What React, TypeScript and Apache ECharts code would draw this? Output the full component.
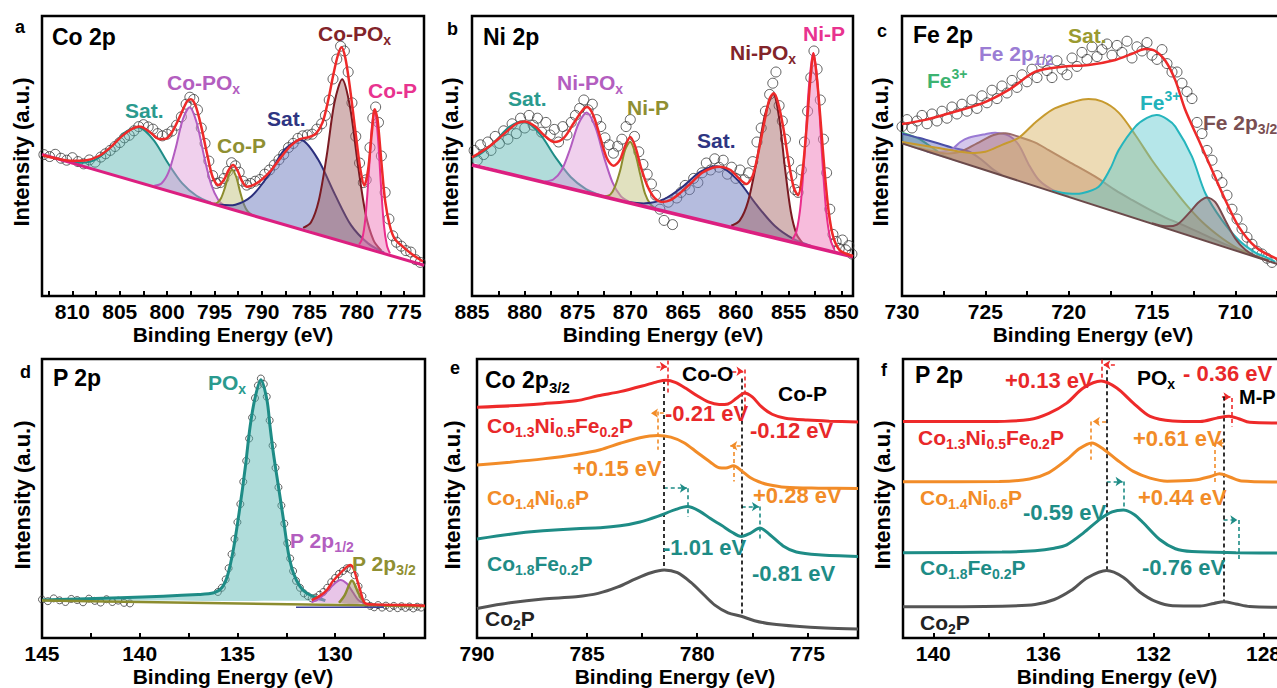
import React, { useEffect, useRef } from "react";
import * as echarts from "echarts";

const FONT = '"Liberation Sans", Arial, Helvetica, sans-serif';

// ================= panel a : Co 2p =================
const aLabels = [810, 805, 800, 795, 790, 785, 780, 775];
const aTicks = [812.5, 810, 807.5, 805, 802.5, 800, 797.5, 795, 792.5, 790, 787.5, 785, 782.5, 780, 777.5, 775];
const aBaseline = [[813.2, 50.6], [772.9, 11.0]];
const aSatHigh = [[810.4, 48.1], [808.9, 47.6], [807.4, 49.0], [805.9, 53.3], [804.4, 58.55], [802.9, 60.2], [801.4, 55.6], [799.9, 47.4], [798.4, 40.2], [796.9, 35.8], [795.4, 33.4]];
const aCoPOxHigh = [[801.35, 39.4], [800.6, 40.2], [799.85, 44.2], [799.1, 52.8], [798.35, 63.0], [797.6, 67.4], [796.85, 61.5], [796.1, 49.9], [795.35, 39.8], [794.6, 34.3], [793.85, 32.0]];
const aCoPHigh = [[795.1, 33.0], [794.7, 33.3], [794.3, 35.0], [793.9, 38.7], [793.5, 43.2], [793.1, 45.05], [792.7, 42.4], [792.3, 37.2], [791.9, 32.7], [791.5, 30.2], [791.1, 29.1]];
const aSatLow = [[794.6, 32.7], [792.8, 32.6], [791.1, 35.6], [789.3, 43.2], [787.6, 52.3], [785.8, 55.7], [784.1, 48.9], [782.3, 36.3], [780.6, 25.3], [778.8, 18.8], [777.1, 15.5]];
const aCoPOxLow = [[785.65, 24.3], [784.82, 26.3], [784.0, 34.1], [783.17, 50.0], [782.35, 69.0], [781.52, 77.4], [780.7, 67.4], [779.87, 46.8], [779.05, 29.2], [778.22, 19.9], [777.4, 16.2]];
const aCoPLow = [[779.74, 18.4], [779.41, 20.5], [779.09, 27.6], [778.76, 41.9], [778.44, 58.8], [778.11, 66.4], [777.79, 58.1], [777.46, 40.6], [777.14, 25.7], [776.81, 18.0], [776.49, 15.2]];
const aEnvelope = [[813.1, 50.2], [811.5, 49.0], [810.0, 48.3], [808.5, 48.5], [807.2, 50.0], [806.0, 53.0], [804.8, 57.0], [803.8, 59.5], [802.9, 60.5], [801.8, 58.5], [800.8, 56.0], [800.1, 56.2], [799.4, 59.0], [798.6, 64.5], [797.9, 69.5], [797.5, 70.3], [797.0, 68.0], [796.4, 60.5], [795.8, 51.0], [795.2, 42.5], [794.6, 39.6], [794.0, 41.5], [793.5, 45.0], [793.05, 46.8], [792.6, 45.0], [792.1, 41.0], [791.6, 39.0], [790.8, 39.8], [790.0, 41.6], [789.0, 45.0], [788.0, 49.5], [787.0, 53.5], [786.0, 56.0], [785.0, 56.8], [784.3, 58.0], [783.6, 62.0], [783.0, 70.0], [782.5, 78.5], [782.0, 85.8], [781.6, 88.8], [781.2, 85.0], [780.8, 76.5], [780.4, 66.0], [780.0, 55.0], [779.6, 45.0], [779.2, 39.5], [778.8, 45.0], [778.4, 58.5], [778.1, 66.7], [777.8, 63.0], [777.4, 48.0], [777.0, 34.0], [776.5, 25.0], [776.0, 20.5], [775.2, 17.8], [774.2, 15.0], [773.0, 12.3]];
const aCircles = [[813.0, 50.5], [812.4, 49.8], [811.8, 50.6], [811.2, 49.2], [810.6, 48.5], [810.0, 49.4], [809.4, 48.0], [808.8, 47.2], [808.2, 48.6], [807.6, 47.8], [807.0, 49.6], [806.5, 50.8], [806.0, 52.0], [805.5, 53.4], [805.0, 54.8], [804.5, 56.5], [804.0, 57.4], [803.5, 59.0], [803.0, 60.5], [802.5, 61.2], [802.0, 60.4], [801.5, 59.6], [801.0, 58.0], [800.5, 57.2], [800.0, 57.8], [799.5, 58.9], [799.0, 61.0], [798.5, 64.0], [798.0, 68.5], [797.6, 71.0], [797.2, 70.2], [796.8, 66.5], [796.4, 60.0], [796.0, 54.5], [795.6, 48.2], [795.2, 43.0], [794.8, 40.2], [794.4, 40.5], [794.0, 42.0], [793.6, 44.5], [793.2, 47.6], [792.8, 46.5], [792.4, 44.2], [792.0, 41.0], [791.6, 39.6], [791.2, 40.2], [790.7, 41.0], [790.2, 41.6], [789.7, 43.5], [789.2, 45.0], [788.7, 46.8], [788.2, 48.7], [787.7, 50.6], [787.2, 53.0], [786.7, 54.5], [786.2, 56.3], [785.7, 57.2], [785.2, 57.5], [784.7, 57.8], [784.2, 59.6], [783.7, 61.5], [783.3, 64.5], [782.9, 70.0], [782.5, 77.5], [782.1, 84.6], [781.7, 89.2], [781.3, 87.5], [780.9, 80.0], [780.5, 69.0], [780.1, 57.0], [779.7, 47.5], [779.3, 40.5], [779.0, 41.5], [778.6, 53.0], [778.3, 63.5], [778.0, 67.5], [777.7, 62.0], [777.4, 50.0], [777.0, 37.0], [776.6, 27.5], [776.2, 21.5], [775.8, 19.2], [775.3, 17.8], [774.8, 16.2], [774.3, 15.7], [773.8, 13.0], [773.3, 12.0]];

// ================= panel b : Ni 2p =================
const bLabels = [885, 880, 875, 870, 865, 860, 855, 850];
const bTicks = [885, 882.5, 880, 877.5, 875, 872.5, 870, 867.5, 865, 862.5, 860, 857.5, 855, 852.5, 850];
const bBaseline = [[885, 46.8], [848.9, 14.0]];
const bSatHigh = [[885.8, 48.7], [884.35, 50.4], [882.9, 54.9], [881.45, 60.4], [880.0, 62.3], [878.55, 57.8], [877.1, 49.6], [875.65, 42.5], [874.2, 38.2], [872.75, 35.9]];
const bNiPOxHigh = [[878.1, 40.9], [877.3, 41.6], [876.5, 45.0], [875.7, 52.6], [874.9, 61.6], [874.1, 65.5], [873.3, 60.2], [872.5, 49.7], [871.7, 40.7], [870.9, 35.7], [870.1, 33.6]];
const bNiPHigh = [[872.4, 35.6], [871.9, 36.2], [871.45, 39.1], [870.95, 45.0], [870.5, 52.1], [870.0, 55.1], [869.55, 51.2], [869.05, 43.3], [868.6, 36.5], [868.1, 32.8], [867.6, 31.2]];
const bSatLow = [[870.3, 33.7], [868.55, 33.1], [866.8, 34.6], [865.05, 39.0], [863.3, 44.5], [861.55, 46.2], [859.8, 41.3], [858.05, 32.6], [856.3, 25.0], [854.55, 20.4], [852.8, 17.8]];
const bNiPOxLow = [[860.44, 25.1], [859.64, 26.9], [858.84, 33.8], [858.04, 47.9], [857.24, 64.7], [856.44, 72.1], [855.89, 63.4], [855.34, 45.5], [854.79, 30.1], [854.24, 22.0], [853.69, 19.0]];
const bNiPLow = [[854.65, 20.1], [854.25, 23.2], [853.85, 33.0], [853.45, 52.8], [853.05, 76.0], [852.65, 86.7], [852.25, 75.3], [851.85, 51.3], [851.45, 30.8], [851.05, 20.3], [850.65, 16.5]];
const bEnvelope = [[885.0, 49.5], [883.5, 53.0], [882.0, 57.8], [880.8, 61.5], [880.0, 62.3], [879.0, 60.5], [878.2, 57.5], [877.2, 55.0], [876.3, 56.5], [875.4, 61.5], [874.6, 66.0], [874.1, 67.5], [873.5, 64.5], [872.8, 56.0], [872.2, 49.0], [871.6, 46.5], [871.0, 48.5], [870.5, 53.5], [870.0, 56.8], [869.5, 53.0], [869.0, 46.0], [868.4, 39.5], [867.7, 35.0], [867.0, 33.6], [866.2, 34.2], [865.2, 37.0], [864.2, 40.5], [863.2, 44.0], [862.2, 45.8], [861.5, 46.2], [860.5, 45.0], [859.7, 42.0], [859.0, 40.0], [858.4, 43.0], [857.8, 52.5], [857.2, 64.0], [856.8, 70.5], [856.4, 72.4], [856.0, 69.0], [855.5, 60.0], [855.0, 48.0], [854.5, 38.5], [854.1, 36.0], [853.7, 44.0], [853.3, 60.0], [852.95, 77.0], [852.65, 86.7], [852.35, 79.0], [852.0, 64.0], [851.6, 45.0], [851.2, 30.0], [850.8, 21.5], [850.2, 16.5], [849.5, 15.0], [848.9, 14.3]];
const bCircles = [[884.8, 52.0], [884.5, 48.5], [884.2, 54.0], [883.9, 50.5], [883.5, 55.0], [883.2, 52.0], [882.8, 57.0], [882.4, 54.5], [882.0, 59.0], [881.6, 56.0], [881.2, 61.5], [880.8, 58.0], [880.4, 63.5], [880.0, 60.0], [879.6, 64.5], [879.2, 61.0], [878.8, 63.5], [878.4, 58.5], [878.0, 62.0], [877.6, 57.5], [877.2, 59.5], [876.8, 55.0], [876.4, 60.5], [876.0, 57.5], [875.6, 62.0], [875.2, 64.5], [874.8, 67.0], [874.4, 70.0], [874.0, 66.5], [873.6, 68.5], [873.2, 63.0], [872.8, 60.5], [872.4, 56.5], [872.0, 54.0], [871.6, 51.0], [871.2, 53.5], [870.8, 56.0], [870.4, 60.5], [870.0, 63.0], [869.6, 57.0], [869.2, 51.5], [868.8, 47.0], [868.4, 43.5], [868.0, 40.0], [867.6, 36.0], [867.2, 31.0], [866.8, 27.0], [866.4, 33.5], [866.0, 25.5], [865.6, 35.0], [865.2, 37.0], [864.8, 39.5], [864.4, 38.0], [864.0, 42.0], [863.6, 40.5], [863.2, 44.0], [862.8, 47.5], [862.4, 45.0], [862.0, 49.0], [861.6, 46.0], [861.2, 48.5], [860.8, 43.5], [860.4, 46.0], [860.0, 42.0], [859.6, 45.0], [859.2, 41.5], [858.8, 44.0], [858.4, 48.0], [858.0, 55.0], [857.6, 60.0], [857.2, 66.0], [856.8, 72.0], [856.5, 76.0], [856.2, 80.0], [855.9, 68.0], [855.6, 62.5], [855.3, 56.0], [855.0, 48.0], [854.7, 43.0], [854.4, 38.0], [854.1, 37.0], [853.8, 45.0], [853.5, 55.0], [853.2, 66.0], [852.9, 78.0], [852.6, 87.5], [852.3, 81.0], [852.0, 70.0], [851.7, 56.0], [851.4, 44.0], [851.1, 31.0], [850.8, 22.0], [850.5, 19.5], [850.2, 17.0], [849.9, 20.0], [849.6, 16.5], [849.3, 18.0], [849.0, 15.0]];

// ================= panel c : Fe 2p =================
const cLabels = [730, 725, 720, 715, 710];
const cTicks = [730, 727.5, 725, 722.5, 720, 717.5, 715, 712.5, 710, 707.5];
const cBaseline = [[730, 54.5], [706, 8.6]];
const cFe3Green = [[731.5, 57.4], [731, 59.2], [730, 58.3], [729, 56.2], [728.5, 54.3], [728, 52.2], [727.5, 50.2], [727, 49.0]];
const cBlue = [[731.5, 57.4], [731, 59.5], [730, 58.0], [729, 56.5], [728, 54.8], [727, 53.0], [726, 51.6], [725.3, 49.0], [724.6, 45.5], [724, 43.2]];
const cFe2p12 = [[728.5, 51.6], [728, 51.2], [727, 52.5], [726.5, 55.0], [726, 56.5], [725, 57.8], [724.4, 58.3], [723.6, 57.3], [723, 54.0], [722.4, 47.0], [721.8, 41.5], [721, 38.0], [720, 35.8]];
const cRose = [[729, 52.9], [727.5, 51.0], [726.5, 51.5], [725.5, 54.5], [724.5, 57.5], [723.8, 58.1], [723, 56.9], [722, 54.8], [721.2, 52.1], [720, 48.0], [718.4, 42.6], [717.2, 37.8], [716.2, 34.3], [715.2, 31.0], [714.2, 28.0], [713.2, 25.5], [712.2, 22.8], [711, 19.5], [710, 17.0], [709, 14.6]];
const cSat = [[730.5, 55.5], [730, 55.0], [728, 53.0], [726, 51.2], [725, 51.5], [724, 54.0], [723, 56.5], [722, 62.0], [721, 66.5], [720, 68.8], [719, 70.3], [718, 69.5], [717, 65.5], [716, 57.5], [715, 48.5], [714, 40.5], [713, 33.0], [712, 26.5], [711, 21.5], [710, 17.5], [709, 14.8], [708, 12.8]];
const cFe3Cyan = [[721, 37.6], [720, 36.6], [719.2, 36.7], [718.2, 39.0], [717.5, 45.5], [717, 52.1], [716, 60.5], [715.3, 63.6], [714.7, 64.6], [714.1, 63.2], [713.6, 60.5], [712.6, 49.8], [711.8, 36.7], [710.8, 27.1], [709.8, 20.0], [708.8, 15.5], [708.2, 14.0], [707.6, 12.2]];
const cFe2p32 = [[715, 26.0], [714.2, 24.9], [713.5, 25.5], [712.8, 29.5], [712.2, 33.5], [711.7, 35.2], [711.2, 33.5], [710.6, 27.0], [710, 20.5], [709.4, 16.5], [708.8, 14.3], [708, 12.6]];
const cEnvelope = [[730.0, 61.4], [728.6, 62.9], [727.2, 65.2], [725.2, 68.8], [723.6, 73.6], [722.0, 80.1], [720.4, 81.9], [718.8, 82.5], [717.2, 84.3], [716.2, 86.5], [715.4, 88.2], [714.8, 87.5], [714.2, 84.0], [713.6, 77.0], [713.0, 66.4], [712.2, 55.7], [711.4, 45.0], [710.6, 34.3], [709.8, 24.8], [708.8, 17.6], [707.6, 13.5], [706.5, 11.5]];
const cCircles = [[730.0, 60.5], [729.7, 63.0], [729.4, 60.0], [729.1, 62.5], [728.8, 64.5], [728.5, 61.5], [728.2, 65.0], [727.9, 62.5], [727.6, 66.0], [727.3, 63.5], [727.0, 67.5], [726.7, 65.0], [726.4, 68.5], [726.1, 66.0], [725.8, 70.0], [725.5, 67.0], [725.2, 71.5], [724.9, 69.0], [724.6, 73.5], [724.3, 70.5], [724.0, 75.0], [723.7, 72.5], [723.4, 77.0], [723.1, 74.5], [722.8, 79.0], [722.5, 76.5], [722.2, 81.0], [721.9, 78.0], [721.6, 83.5], [721.3, 80.5], [721.0, 78.0], [720.7, 84.0], [720.4, 81.0], [720.1, 79.0], [719.8, 85.0], [719.5, 82.0], [719.2, 87.0], [718.9, 84.5], [718.6, 89.0], [718.3, 85.5], [718.0, 88.0], [717.7, 90.0], [717.4, 86.0], [717.1, 89.5], [716.8, 87.0], [716.5, 91.0], [716.2, 85.0], [715.9, 89.0], [715.6, 87.5], [715.3, 90.5], [715.0, 86.0], [714.7, 84.5], [714.4, 88.0], [714.1, 83.0], [713.8, 80.0], [713.5, 80.0], [713.2, 76.0], [712.9, 73.0], [712.6, 70.5], [712.3, 62.0], [712.0, 58.0], [711.7, 52.0], [711.4, 48.5], [711.1, 43.0], [710.8, 40.5], [710.5, 36.0], [710.2, 31.0], [709.9, 27.5], [709.6, 24.0], [709.3, 21.0], [709.0, 18.5], [708.7, 16.0], [708.4, 15.0], [708.1, 13.5], [707.8, 12.0]];

// ================= panel d : P 2p =================
const dLabels = [145, 140, 135, 130];
const dTicks = [145, 142.5, 140, 137.5, 135, 132.5, 130, 127.5];
const dBaseline = [[145, 13.4], [125.4, 11.4]];
const dBaseline2 = [[132, 11.0], [127.5, 11.0]];
const dPOx = [[145.0, 13.6], [141.0, 14.4], [137.0, 15.6], [136.2, 16.2], [135.8, 18.0], [135.5, 22.5], [135.2, 32.0], [134.9, 45.5], [134.6, 61.0], [134.35, 75.8], [134.1, 86.0], [133.8, 92.6], [133.49, 85.4], [133.33, 75.8], [133.16, 66.3], [132.9, 54.3], [132.64, 42.3], [132.39, 30.4], [132.13, 23.2], [131.79, 18.4], [131.45, 16.0], [131.0, 14.6], [130.5, 13.4]];
const dP2p12 = [[131.2, 12.8], [130.8, 14.2], [130.4, 16.8], [130.1, 19.0], [129.74, 20.8], [129.4, 19.5], [129.1, 16.5], [128.8, 13.5], [128.5, 12.4]];
const dP2p32 = [[129.8, 12.6], [129.5, 15.5], [129.14, 20.6], [128.8, 16.0], [128.5, 12.6]];
const dEnvelope = [[131.2, 13.6], [130.8, 15.0], [130.42, 17.2], [130.1, 20.5], [129.74, 23.2], [129.4, 25.5], [129.23, 26.2], [129.06, 25.0], [128.9, 21.5], [128.72, 17.2], [128.46, 12.4], [128.0, 12.0], [126.5, 11.8], [125.4, 11.6]];
const dCircles = [[145.0, 13.8], [144.7, 13.2], [144.4, 14.2], [144.1, 13.5], [143.8, 12.9], [143.5, 14.0], [143.2, 13.6], [142.9, 12.8], [142.6, 14.1], [142.3, 13.3], [142.0, 12.7], [141.7, 13.9], [141.4, 12.9], [141.1, 13.4], [140.8, 12.6], [140.5, 12.4], [136.0, 16.5], [135.8, 18.0], [135.6, 21.0], [135.45, 25.0], [135.3, 30.0], [135.15, 35.5], [135.0, 41.5], [134.85, 48.0], [134.7, 56.0], [134.55, 63.5], [134.4, 71.5], [134.25, 79.0], [134.1, 86.0], [133.95, 90.5], [133.8, 93.0], [133.65, 91.0], [133.5, 86.5], [133.35, 78.0], [133.2, 69.0], [133.05, 61.0], [132.9, 54.0], [132.75, 47.5], [132.6, 41.0], [132.45, 34.0], [132.3, 28.5], [132.15, 24.0], [132.0, 20.5], [131.8, 18.0], [131.6, 16.0], [131.4, 15.0], [131.2, 14.2], [131.0, 14.5], [130.8, 15.5], [130.6, 16.5], [130.4, 18.0], [130.2, 20.0], [130.0, 21.5], [129.8, 23.0], [129.6, 24.0], [129.4, 25.0], [129.2, 24.5], [129.0, 22.5], [128.8, 18.5], [128.6, 15.0], [128.4, 12.5], [128.2, 11.5], [128.0, 11.0], [127.8, 11.8], [127.6, 10.9], [127.4, 11.6], [127.2, 10.8], [127.0, 11.5], [126.8, 10.7], [126.6, 11.4], [126.4, 10.8], [126.2, 11.3], [126.0, 10.6], [125.8, 11.2], [125.6, 10.9]];

// ================= panel e : Co 2p3/2 =================
const eLabels = [790, 785, 780, 775];
const eTicks = [790, 787.5, 785, 782.5, 780, 777.5, 775];
const eCoNiFe = [[790.0, 82.7], [788.5, 83.2], [787.0, 84.0], [785.5, 85.0], [784.5, 86.8], [783.5, 88.3], [782.5, 90.3], [781.8, 91.9], [781.4, 92.4], [781.0, 91.6], [780.5, 89.4], [780.0, 86.8], [779.5, 84.6], [779.0, 83.7], [778.6, 83.9], [778.2, 86.0], [777.85, 87.8], [777.5, 86.4], [777.1, 83.0], [776.6, 80.2], [776.0, 78.8], [775.0, 78.1], [774.0, 77.7], [772.7, 77.4]];
const eCoNi = [[790.0, 62.0], [788.5, 63.0], [787.0, 64.2], [785.5, 65.8], [784.4, 67.5], [783.5, 69.8], [782.6, 71.8], [781.8, 72.6], [781.2, 72.0], [780.6, 70.0], [780.0, 66.5], [779.4, 63.0], [779.0, 61.0], [778.7, 60.9], [778.35, 61.7], [778.0, 60.0], [777.6, 57.5], [777.2, 56.0], [776.8, 55.0], [776.0, 54.0], [774.5, 53.7], [772.7, 53.6]];
const eCoFe = [[790.0, 35.5], [788.5, 37.2], [787.0, 38.4], [785.5, 39.2], [784.4, 39.5], [783.5, 40.2], [782.6, 41.6], [781.8, 43.6], [781.0, 46.0], [780.45, 47.1], [779.9, 45.5], [779.4, 42.8], [778.9, 40.4], [778.4, 37.8], [778.0, 36.4], [777.6, 37.5], [777.15, 39.4], [776.7, 37.0], [776.1, 33.0], [775.5, 30.8], [774.5, 29.8], [772.7, 29.2]];
const eCo2P = [[790.0, 10.6], [788.5, 12.6], [787.0, 14.0], [785.5, 14.8], [784.5, 16.0], [783.6, 18.3], [782.8, 21.2], [782.1, 23.4], [781.5, 24.4], [780.9, 23.4], [780.3, 20.0], [779.7, 15.5], [779.2, 11.8], [778.6, 9.0], [778.0, 7.8], [777.4, 6.2], [776.6, 5.0], [775.5, 4.2], [774.2, 3.6], [772.7, 3.2]];
// segments: [x1, y1, x2, y2, arrowAtEnd]
const eRefLines = [[781.52, 92.5, 781.52, 24.4, 0], [778.0, 93.0, 778.0, 7.7, 0]];
const eShiftRed = [[781.32, 99.5, 781.32, 87.8, 0], [781.85, 97.3, 781.38, 97.3, 1], [777.85, 96.2, 777.85, 81.8, 0], [778.41, 95.6, 777.9, 95.6, 1]];
const eShiftOrange = [[781.79, 81.2, 781.79, 67.5, 0], [781.52, 80.6, 782.1, 80.6, 1], [778.34, 69.2, 778.34, 56.1, 0], [778.03, 68.9, 778.5, 68.9, 1]];
const eShiftTeal = [[781.52, 53.7, 780.47, 53.7, 1], [780.43, 53.7, 780.43, 43.5, 0], [777.98, 47.1, 777.2, 47.1, 1], [777.15, 47.1, 777.15, 34.6, 0]];

// ================= panel f : P 2p =================
const fLabels = [140, 136, 132, 128];
const fTicks = [140, 138, 136, 134, 132, 130, 128];
const fCoNiFe = [[141.1, 77.6], [138.0, 77.6], [136.5, 78.3], [135.8, 80.5], [135.15, 84.2], [134.55, 89.6], [133.9, 92.1], [133.33, 89.6], [132.73, 84.2], [132.12, 79.4], [131.3, 77.8], [130.3, 77.6], [129.7, 78.8], [129.25, 79.5], [128.9, 78.6], [128.5, 77.3], [127.0, 77.0]];
const fCoNi = [[141.1, 56.0], [137.6, 56.1], [136.5, 57.0], [135.8, 59.3], [135.15, 63.9], [134.7, 67.8], [134.24, 69.9], [133.8, 67.6], [133.33, 63.9], [132.73, 59.7], [132.12, 57.3], [131.5, 56.2], [130.5, 56.6], [129.9, 58.0], [129.6, 58.9], [129.2, 57.6], [128.8, 56.3], [127.0, 55.9]];
const fCoFe = [[141.1, 30.6], [137.5, 30.8], [136.3, 31.3], [135.6, 32.2], [135.15, 33.4], [134.55, 37.6], [133.94, 42.6], [133.5, 45.2], [133.09, 45.9], [132.7, 44.3], [132.36, 41.2], [131.76, 35.2], [131.2, 32.0], [130.6, 31.0], [129.0, 30.6], [127.0, 30.4]];
const fCo2P = [[141.1, 11.2], [137.5, 11.4], [136.3, 12.0], [135.6, 13.8], [135.0, 17.0], [134.4, 21.6], [133.7, 24.2], [133.1, 21.8], [132.5, 16.5], [131.9, 13.0], [131.3, 11.6], [130.3, 11.5], [129.8, 12.4], [129.45, 13.0], [129.0, 12.2], [128.5, 11.3], [127.0, 11.0]];
const fRefLines = [[133.7, 96.0, 133.7, 24.2, 0], [129.45, 86.6, 129.45, 13.0, 0]];
const fShiftRed = [[133.88, 99.7, 133.88, 92.0, 0], [133.4, 97.9, 133.82, 97.9, 1], [129.15, 86.0, 129.15, 75.8, 0], [129.51, 86.4, 129.2, 86.4, 1]];
const fShiftOrange = [[134.28, 77.6, 134.28, 63.9, 0], [133.72, 77.6, 134.2, 77.6, 1], [129.76, 69.9, 129.76, 54.9, 0], [129.45, 69.9, 129.72, 69.9, 1]];
const fShiftTeal = [[133.7, 56.1, 133.12, 56.1, 1], [133.09, 56.1, 133.09, 45.9, 0], [129.45, 42.3, 128.95, 42.3, 1], [128.91, 42.3, 128.91, 28.0, 0]];

// ================= styling =================
const C = {
  teal: "#1e8c86", tealFill: "rgba(70,172,166,0.42)",
  violet: "#b25cc0", violetFill: "rgba(222,150,214,0.45)",
  olive: "#8c8c2e", oliveFill: "rgba(196,196,128,0.5)",
  navy: "#2b2f7c", navyFill: "rgba(108,122,190,0.5)",
  dred: "#7a1a22", dredFill: "rgba(160,92,92,0.45)",
  pink: "#ea2d8c", pinkFill: "rgba(240,122,186,0.5)",
  base: "#dc1f80", red: "#ee2a2a", orange: "#f28c28", gray: "#555555",
};

const grids = [
  { left: 42, top: 16, width: 382, height: 280 },
  { left: 472, top: 16, width: 381, height: 280 },
  { left: 902, top: 16, width: 400, height: 280 },
  { left: 42, top: 359, width: 383, height: 279 },
  { left: 477, top: 359, width: 381, height: 279 },
  { left: 903, top: 359, width: 388, height: 279 },
];
const ranges = [[772.9, 813.2], [848.9, 885], [706, 730], [125.4, 145], [772.7, 790], [127.0, 141.1]];
const labelSets = [aLabels, bLabels, cLabels, dLabels, eLabels, fLabels];
const tickSets = [aTicks, bTicks, cTicks, dTicks, eTicks, fTicks];

function comp(gi: number, data: number[][], stroke: string, fill: string, width = 2) {
  return {
    type: "custom", xAxisIndex: gi, yAxisIndex: gi, data, clip: true, silent: true, z: 3,
    renderItem: (params: any, api: any) => {
      if (params.dataIndexInside !== 0) return null;
      const pts: number[][] = [];
      for (let i = 0; i < params.dataInsideLength; i++) pts.push(api.coord([api.value(0, i), api.value(1, i)]));
      return {
        type: "group",
        children: [
          { type: "polygon", shape: { points: pts, smooth: 0.3 }, style: { fill, stroke: "none" } },
          { type: "polyline", shape: { points: pts, smooth: 0.3 }, style: { stroke, lineWidth: width, fill: "none" } },
        ],
      };
    },
  };
}
function curve(gi: number, data: number[][], color: string, width = 2.5, z = 5, extra: any = {}) {
  return { type: "line", xAxisIndex: gi, yAxisIndex: gi, data, smooth: 0.3, symbol: "none", silent: true, z, lineStyle: { color, width }, ...extra };
}
function dots(gi: number, data: number[][], size = 10) {
  return { type: "scatter", xAxisIndex: gi, yAxisIndex: gi, data, symbol: "circle", symbolSize: size, silent: true, z: 2, itemStyle: { color: "rgba(255,255,255,0)", borderColor: "#3a3a3a", borderWidth: 1 } };
}
function marks(segs: number[][], color: string) {
  return {
    silent: true, symbol: ["none", "none"], symbolSize: 7, animation: false, label: { show: false },
    data: segs.map(([x1, y1, x2, y2, ar]) => [
      { coord: [x1, y1], symbol: "none", lineStyle: { color, type: [4, 3], width: 1.6 } },
      { coord: [x2, y2], symbol: ar ? "arrow" : "none", symbolSize: 7 },
    ]),
  };
}

function rich(color: string, size: number) {
  const s = Math.round(size * 0.66);
  return {
    sub: { fill: color, fontSize: s, fontWeight: "bold", fontFamily: FONT, verticalAlign: "bottom", lineHeight: s },
    sup: { fill: color, fontSize: s, fontWeight: "bold", fontFamily: FONT, verticalAlign: "top", lineHeight: s },
  };
}
function T(x: number, y: number, text: string, color: string, size: number, align = "left", rotation = 0) {
  const hasRich = text.indexOf("{") >= 0;
  return {
    type: "text", x, y, rotation, z: 100, silent: true,
    style: {
      text, fill: color, fontSize: size, fontWeight: "bold", fontFamily: FONT, align, verticalAlign: "middle",
      lineHeight: hasRich ? size + 6 : size, rich: hasRich ? rich(color, size) : undefined,
    },
  };
}

function buildOption() {
  const xAxis = grids.map((_, i) => ({
    gridIndex: i, type: "value", inverse: true, min: ranges[i][0], max: ranges[i][1],
    axisLine: { show: false },
    splitLine: { show: false },
    axisTick: { show: true, inside: true, length: 5, customValues: tickSets[i], lineStyle: { color: "#000", width: 2 } },
    axisLabel: { customValues: labelSets[i], fontSize: 21, fontWeight: "bold", color: "#000", fontFamily: FONT, margin: 5, lineHeight: 20 },
  }));
  const yAxis = grids.map((_, i) => ({ gridIndex: i, type: "value", min: 0, max: 100, show: false }));
  const grid = grids.map((g) => ({ ...g, show: true, borderColor: "#000", borderWidth: 2.5, backgroundColor: "transparent", containLabel: false, outerBoundsMode: "none" }));

  const series: any[] = [
    // a
    dots(0, aCircles),
    comp(0, aSatHigh, C.teal, C.tealFill),
    comp(0, aCoPOxHigh, C.violet, C.violetFill),
    comp(0, aCoPHigh, C.olive, C.oliveFill),
    comp(0, aSatLow, C.navy, C.navyFill),
    comp(0, aCoPOxLow, C.dred, C.dredFill),
    comp(0, aCoPLow, C.pink, C.pinkFill),
    curve(0, aBaseline, C.base, 3, 4, { smooth: false }),
    curve(0, aEnvelope, C.red, 2.5, 6),
    // b
    dots(1, bCircles),
    comp(1, bSatHigh, C.teal, C.tealFill),
    comp(1, bNiPOxHigh, C.violet, C.violetFill),
    comp(1, bNiPHigh, C.olive, C.oliveFill),
    comp(1, bSatLow, C.navy, C.navyFill),
    comp(1, bNiPOxLow, C.dred, C.dredFill),
    comp(1, bNiPLow, C.pink, C.pinkFill),
    curve(1, bBaseline, C.base, 3.5, 4, { smooth: false }),
    curve(1, bEnvelope, C.red, 2.5, 6),
    // c
    dots(2, cCircles),
    comp(2, cFe3Green, "#3cb371", "rgba(60,179,113,0.4)"),
    comp(2, cBlue, "#4a4fa8", "rgba(90,100,190,0.45)"),
    comp(2, cFe2p12, "#9a7ad4", "rgba(160,130,210,0.45)"),
    comp(2, cRose, "#9c6b6b", "rgba(170,105,105,0.42)"),
    comp(2, cSat, "#c79a2e", "rgba(218,180,100,0.48)"),
    comp(2, cFe3Cyan, "#25b5bd", "rgba(92,200,206,0.45)"),
    comp(2, cFe2p32, "#7a4a4e", "rgba(140,100,100,0.4)"),
    curve(2, cBaseline, "#6b4a4a", 2, 4, { smooth: false }),
    curve(2, cEnvelope, C.red, 2.5, 6),
    // d
    dots(3, dCircles, 7),
    comp(3, dPOx, C.teal, "rgba(80,180,175,0.45)", 3),
    comp(3, dP2p12, C.violet, "rgba(210,140,210,0.5)"),
    comp(3, dP2p32, C.olive, "rgba(150,130,90,0.45)", 2.5),
    curve(3, dBaseline, "#8c8c2e", 2.5, 4, { smooth: false }),
    curve(3, dBaseline2, "#3a3f9a", 1.5, 4, { smooth: false }),
    curve(3, dEnvelope, C.red, 2.5, 6),
    // e
    curve(4, eCoNiFe, C.red, 3, 5, { markLine: marks(eShiftRed, C.red) }),
    curve(4, eCoNi, C.orange, 3, 5, { markLine: marks(eShiftOrange, C.orange) }),
    curve(4, eCoFe, C.teal, 3, 5, { markLine: marks(eShiftTeal, C.teal) }),
    curve(4, eCo2P, C.gray, 3, 5, { markLine: marks(eRefLines, "#000") }),
    // f
    curve(5, fCoNiFe, C.red, 3, 5, { markLine: marks(fShiftRed, C.red) }),
    curve(5, fCoNi, C.orange, 3, 5, { markLine: marks(fShiftOrange, C.orange) }),
    curve(5, fCoFe, C.teal, 3, 5, { markLine: marks(fShiftTeal, C.teal) }),
    curve(5, fCo2P, C.gray, 3, 5, { markLine: marks(fRefLines, "#000") }),
  ];

  const K = "#000";
  const R = "#e8282a", O = "#f28c28", TL = "#1e8c86";
  const ROT = Math.PI / 2;
  const graphic = [
    // a
    T(15, 27, "a", K, 18), T(52, 37, "Co 2p", K, 23),
    T(125, 110, "Sat.", "#2a9a8e", 21), T(167, 82, "Co-PO{sub|x}", "#b35ebf", 21),
    T(217, 145, "Co-P", "#8f8f32", 21), T(267, 118, "Sat.", "#2e3582", 21),
    T(318, 33, "Co-PO{sub|x}", "#82242a", 21), T(368, 90, "Co-P", "#e8338f", 21),
    T(21, 152, "Intensity (a.u.)", K, 22, "center", ROT), T(233, 334, "Binding Energy (eV)", K, 21, "center"),
    // b
    T(447, 29, "b", K, 18), T(483, 37, "Ni 2p", K, 23),
    T(508, 98, "Sat.", "#2a9a8e", 21), T(557, 82, "Ni-PO{sub|x}", "#b35ebf", 21),
    T(627, 107, "Ni-P", "#8f8f32", 21), T(697, 140, "Sat.", "#2e3582", 21),
    T(730, 52, "Ni-PO{sub|x}", "#82242a", 21), T(803, 33, "Ni-P", "#e8338f", 21),
    T(450, 152, "Intensity (a.u.)", K, 22, "center", ROT), T(663, 334, "Binding Energy (eV)", K, 21, "center"),
    // c
    T(877, 31, "c", K, 18), T(913, 35, "Fe 2p", K, 23),
    T(979, 53, "Fe 2p{sub|1/2}", "#9b7dd4", 21), T(1068, 35, "Sat.", "#9a9a30", 21),
    T(927, 80, "Fe{sup|3+}", "#3cb371", 21), T(1140, 102, "Fe{sup|3+}", "#22b3bb", 21),
    T(1203, 122, "Fe 2p{sub|3/2}", "#7a4f52", 21),
    T(880, 152, "Intensity (a.u.)", K, 22, "center", ROT), T(1093, 334, "Binding Energy (eV)", K, 21, "center"),
    // d
    T(20, 372, "d", K, 18), T(53, 378, "P 2p", K, 23),
    T(208, 382, "PO{sub|x}", "#2a9a8e", 21), T(290, 540, "P 2p{sub|1/2}", "#b35ebf", 21),
    T(352, 563, "P 2p{sub|3/2}", "#8f8f32", 21),
    T(22, 495, "Intensity (a.u.)", K, 22, "center", ROT), T(233, 676, "Binding Energy (eV)", K, 21, "center"),
    // e
    T(450, 368, "e", K, 18), T(485, 380, "Co 2p{sub|3/2}", K, 23),
    T(682, 373, "Co-O", K, 21), T(778, 393, "Co-P", K, 21),
    T(665, 413, "-0.21 eV", R, 22), T(750, 430, "-0.12 eV", R, 22),
    T(573, 468, "+0.15 eV", O, 22), T(753, 495, "+0.28 eV", O, 22),
    T(663, 547, "-1.01 eV", TL, 22), T(752, 573, "-0.81 eV", TL, 22),
    T(487, 425, "Co{sub|1.3}Ni{sub|0.5}Fe{sub|0.2}P", R, 21),
    T(487, 497, "Co{sub|1.4}Ni{sub|0.6}P", O, 21),
    T(487, 563, "Co{sub|1.8}Fe{sub|0.2}P", TL, 21),
    T(485, 618, "Co{sub|2}P", "#222", 21),
    T(452, 495, "Intensity (a.u.)", K, 22, "center", ROT), T(675, 676, "Binding Energy (eV)", K, 21, "center"),
    // f
    T(881, 370, "f", K, 18), T(915, 375, "P 2p", K, 23),
    T(1005, 380, "+0.13 eV", R, 22), T(1137, 377, "PO{sub|x}", K, 21),
    T(1183, 373, "- 0.36 eV", R, 22), T(1239, 397, "M-P", K, 20),
    T(918, 437, "Co{sub|1.3}Ni{sub|0.5}Fe{sub|0.2}P", R, 21), T(1133, 438, "+0.61 eV", O, 22),
    T(920, 497, "Co{sub|1.4}Ni{sub|0.6}P", O, 21), T(1138, 497, "+0.44 eV", O, 22),
    T(1023, 512, "-0.59 eV", TL, 22),
    T(920, 567, "Co{sub|1.8}Fe{sub|0.2}P", TL, 21), T(1142, 567, "-0.76 eV", TL, 22),
    T(920, 622, "Co{sub|2}P", "#222", 21),
    T(882, 495, "Intensity (a.u.)", K, 22, "center", ROT), T(1117, 676, "Binding Energy (eV)", K, 21, "center"),
  ];

  return { animation: false, backgroundColor: "#fff", grid, xAxis, yAxis, series, graphic };
}

export default function App() {
  const ref = useRef<HTMLDivElement>(null);
  useEffect(() => {
    if (!ref.current) return;
    const chart = echarts.init(ref.current, undefined, { renderer: "svg", width: 1277, height: 688 });
    chart.setOption(buildOption() as any);
    return () => chart.dispose();
  }, []);
  return <div ref={ref} style={{ position: "fixed", left: 0, top: 0, width: 1277, height: 688, background: "#fff" }} />;
}
